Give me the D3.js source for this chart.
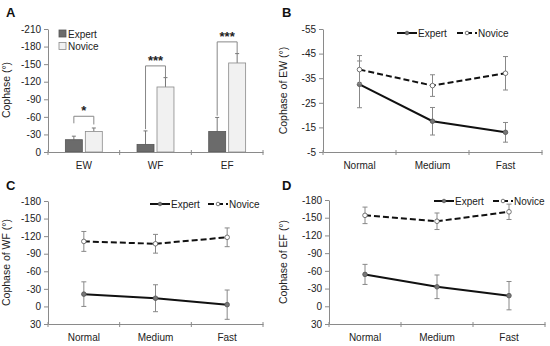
<!DOCTYPE html>
<html>
<head>
<meta charset="utf-8">
<script src="https://cdn.jsdelivr.net/npm/d3@7"></script>
<style>
  body { margin: 0; background: #fff; }
  svg { font-family: "Liberation Sans", Arial, sans-serif; }
</style>
</head>
<body>
<div id="chart"></div>
<script>
var w = 550; // Define width
var h = 346; // Define height

// Panel A: mean cophase per joint pair (bars), with upper error
var jointPairs = ["EW", "WF", "EF"];
var groups = ["Expert", "Novice"];
var barExpert = [-21, -13, -35];
var barExpertErr = [6, 23, 24];
var barNovice = [-35, -111, -152];
var barNoviceErr = [6, 16, 16];
var sigLabels = ["*", "***", "***"];
var sigLevel = [-61, -147, -188];
var sigLeftEnd = [-49, -39, -62];
var sigRightEnd = [-47, -128, -169];
var ticksA = [0, -30, -60, -90, -120, -150, -180, -210];

// Panels B-D: cophase by speed condition
var speeds = ["Normal", "Medium", "Fast"];
var ewExpert = [-32.5, -17.5, -13];
var ewExpertErr = [9.5, 5.6, 4];
var ewNovice = [-38.5, -32, -37];
var ewNoviceErr = [5.7, 4.4, 6.8];
var ticksB = [-5, -15, -25, -35, -45, -55];

var wfExpert = [-21, -14, -3];
var wfExpertErr = [21, 23, 25];
var wfNovice = [-111, -107, -118];
var wfNoviceErr = [17, 16, 16];
var ticksC = [30, 0, -30, -60, -90, -120, -150, -180];

var efExpert = [-54, -33, -18];
var efExpertErr = [17, 20, 24];
var efNovice = [-154, -144, -160];
var efNoviceErr = [14, 14, 13];
var ticksD = [30, 0, -30, -60, -90, -120, -150, -180];

var svg = d3.select("#chart").append("svg")
    .attr("width", w)
    .attr("height", h);

var axisColor = "#8a8a8a";
var textColor = "#222";

function styleAxis(g) {
    g.selectAll("path, line").attr("stroke", axisColor);
    g.selectAll("text").attr("fill", textColor).style("font-size", "10px");
}

function panelLabel(x, y, t) {
    svg.append("text")
        .attr("x", x).attr("y", y)
        .style("font-size", "13px")
        .style("font-weight", "bold")
        .attr("fill", "#111")
        .text(t);
}

function yLabel(x, y, t) {
    svg.append("text")
        .attr("transform", "translate(" + x + "," + y + ") rotate(-90)")
        .attr("text-anchor", "middle")
        .attr("fill", textColor)
        .style("font-size", "10.5px")
        .text(t);
}

function drawAxes(x, y, ticks, left, bottom) {
    var ax = svg.append("g")
        .attr("transform", "translate(0," + bottom + ")")
        .call(d3.axisBottom(x).tickSize(0).tickPadding(10));
    styleAxis(ax);
    // small ticks at the band boundaries
    var edges = x.domain().map(function(d) { return x(d); });
    edges.push(x.range()[1]);
    svg.selectAll(null).data(edges).enter().append("line")
        .attr("x1", function(d) { return d; })
        .attr("x2", function(d) { return d; })
        .attr("y1", bottom - 2)
        .attr("y2", bottom + 3)
        .attr("stroke", axisColor);

    var ay = svg.append("g")
        .attr("transform", "translate(" + left + ",0)")
        .call(d3.axisLeft(y).tickValues(ticks).tickSize(4).tickSizeOuter(0)
            .tickFormat(function(d) { return String(d); }));
    styleAxis(ay);
}

function drawBarPanel() {
    var left = 48, top = 29, bottom = 152, right = 263;
    var x0 = d3.scaleBand().domain(jointPairs).range([left, right]);
    var x1 = d3.scaleBand().domain(groups).range([0, x0.bandwidth()])
        .paddingInner(0.15).paddingOuter(0.87);
    var y = d3.scaleLinear().domain([0, -210]).range([bottom, top]);

    var rows = jointPairs.map(function(p, i) {
        return [
            { pair: p, group: "Expert", value: barExpert[i], err: barExpertErr[i] },
            { pair: p, group: "Novice", value: barNovice[i], err: barNoviceErr[i] }
        ];
    });
    var flat = [].concat.apply([], rows);

    // error bars (upper only)
    var eb = svg.selectAll(".eb").data(flat).enter().append("g");
    eb.append("line")
        .attr("x1", function(d) { return x0(d.pair) + x1(d.group) + x1.bandwidth() / 2; })
        .attr("x2", function(d) { return x0(d.pair) + x1(d.group) + x1.bandwidth() / 2; })
        .attr("y1", function(d) { return y(d.value); })
        .attr("y2", function(d) { return y(d.value - d.err); })
        .attr("stroke", "#777");
    eb.append("line")
        .attr("x1", function(d) { return x0(d.pair) + x1(d.group) + x1.bandwidth() / 2 - 2; })
        .attr("x2", function(d) { return x0(d.pair) + x1(d.group) + x1.bandwidth() / 2 + 2; })
        .attr("y1", function(d) { return y(d.value - d.err); })
        .attr("y2", function(d) { return y(d.value - d.err); })
        .attr("stroke", "#777");

    svg.selectAll(".bar").data(flat).enter().append("rect")
        .attr("x", function(d) { return x0(d.pair) + x1(d.group); })
        .attr("y", function(d) { return y(d.value); })
        .attr("width", x1.bandwidth())
        .attr("height", function(d) { return y(0) - y(d.value); })
        .attr("fill", function(d) { return d.group === "Expert" ? "#6b6b6b" : "#f1f1f1"; })
        .attr("stroke", function(d) { return d.group === "Expert" ? "#555" : "#8a8a8a"; })
        .attr("stroke-width", 0.8);

    // significance brackets
    jointPairs.forEach(function(p, i) {
        var xl = x0(p) + x1("Expert") + x1.bandwidth() / 2;
        var xr = x0(p) + x1("Novice") + x1.bandwidth() / 2;
        svg.append("path")
            .attr("d", "M" + xl + "," + y(sigLeftEnd[i]) + "V" + y(sigLevel[i]) +
                "H" + xr + "V" + y(sigRightEnd[i]))
            .attr("fill", "none")
            .attr("stroke", "#888");
        svg.append("text")
            .attr("x", (xl + xr) / 2)
            .attr("y", y(sigLevel[i]) - 1)
            .attr("text-anchor", "middle")
            .style("font-size", "13px")
            .style("font-weight", "bold")
            .attr("fill", "#222")
            .text(sigLabels[i]);
    });

    drawAxes(x0, y, ticksA, left, bottom);

    // legend
    groups.forEach(function(g, i) {
        svg.append("rect")
            .attr("x", 59).attr("y", 30 + i * 12.5)
            .attr("width", 7).attr("height", 7)
            .attr("fill", g === "Expert" ? "#6b6b6b" : "#f1f1f1")
            .attr("stroke", g === "Expert" ? "#555" : "#8a8a8a")
            .attr("stroke-width", 0.8);
        svg.append("text")
            .attr("x", 68).attr("y", 37.5 + i * 12.5)
            .attr("fill", textColor)
            .style("font-size", "10px")
            .text(g);
    });

    yLabel(10, 90, "Cophase (°)");
    panelLabel(6, 17, "A");
}

function drawLinePanel(opt) {
    var x = d3.scaleBand().domain(speeds).range([opt.left, opt.right]);
    var y = d3.scaleLinear().domain(opt.domain).range([opt.bottom, opt.top]);
    var cx = function(i) { return x(speeds[i]) + x.bandwidth() / 2; };

    drawAxes(x, y, opt.ticks, opt.left, opt.bottom);

    var series = [
        { name: "Expert", values: opt.expert, errs: opt.expertErr, dash: null, fill: "#777" },
        { name: "Novice", values: opt.novice, errs: opt.noviceErr, dash: "6,3", fill: "#fff" }
    ];

    series.forEach(function(s) {
        var g = svg.append("g");
        // error bars
        s.values.forEach(function(v, i) {
            var x0 = cx(i);
            g.append("line")
                .attr("x1", x0).attr("x2", x0)
                .attr("y1", y(v - s.errs[i])).attr("y2", y(v + s.errs[i]))
                .attr("stroke", "#888");
            [v - s.errs[i], v + s.errs[i]].forEach(function(e) {
                g.append("line")
                    .attr("x1", x0 - 2.5).attr("x2", x0 + 2.5)
                    .attr("y1", y(e)).attr("y2", y(e))
                    .attr("stroke", "#888");
            });
        });
        var line = d3.line()
            .x(function(d, i) { return cx(i); })
            .y(function(d) { return y(d); });
        g.append("path")
            .datum(s.values)
            .attr("d", line)
            .attr("fill", "none")
            .attr("stroke", "#111")
            .attr("stroke-width", 2)
            .attr("stroke-dasharray", s.dash);
        g.selectAll("circle").data(s.values).enter().append("circle")
            .attr("cx", function(d, i) { return cx(i); })
            .attr("cy", function(d) { return y(d); })
            .attr("r", 2.3)
            .attr("fill", s.fill)
            .attr("stroke", "#555")
            .attr("stroke-width", 0.8);
    });

    // legend
    var lg = opt.legend;
    series.forEach(function(s, i) {
        var lx = lg.x[i];
        svg.append("line")
            .attr("x1", lx).attr("x2", lx + 20)
            .attr("y1", lg.y).attr("y2", lg.y)
            .attr("stroke", "#111")
            .attr("stroke-width", 2)
            .attr("stroke-dasharray", s.dash);
        svg.append("circle")
            .attr("cx", lx + 10).attr("cy", lg.y).attr("r", 1.8)
            .attr("fill", s.fill).attr("stroke", "#555").attr("stroke-width", 0.8);
        svg.append("text")
            .attr("x", lx + 21).attr("y", lg.y + 3.5)
            .attr("fill", textColor)
            .style("font-size", "10px")
            .text(s.name);
    });

    yLabel(opt.labelX, (opt.top + opt.bottom) / 2, opt.label);
    panelLabel(opt.panelX, opt.panelY, opt.panel);
}

drawBarPanel();

drawLinePanel({
    left: 323, right: 542, top: 29, bottom: 152,
    domain: [-5, -55], ticks: ticksB,
    expert: ewExpert, expertErr: ewExpertErr,
    novice: ewNovice, noviceErr: ewNoviceErr,
    legend: { x: [397, 457], y: 33 },
    label: "Cophase of EW (°)", labelX: 287,
    panel: "B", panelX: 282, panelY: 17
});
drawLinePanel({
    left: 48, right: 263, top: 201, bottom: 324,
    domain: [30, -180], ticks: ticksC,
    expert: wfExpert, expertErr: wfExpertErr,
    novice: wfNovice, noviceErr: wfNoviceErr,
    legend: { x: [150, 208], y: 204 },
    label: "Cophase of WF (°)", labelX: 10,
    panel: "C", panelX: 6, panelY: 190
});
drawLinePanel({
    left: 329, right: 545, top: 200, bottom: 324,
    domain: [30, -180], ticks: ticksD,
    expert: efExpert, expertErr: efExpertErr,
    novice: efNovice, noviceErr: efNoviceErr,
    legend: { x: [434, 493], y: 201 },
    label: "Cophase  of EF (°)", labelX: 287,
    panel: "D", panelX: 282, panelY: 190
});
</script>
</body>
</html>
